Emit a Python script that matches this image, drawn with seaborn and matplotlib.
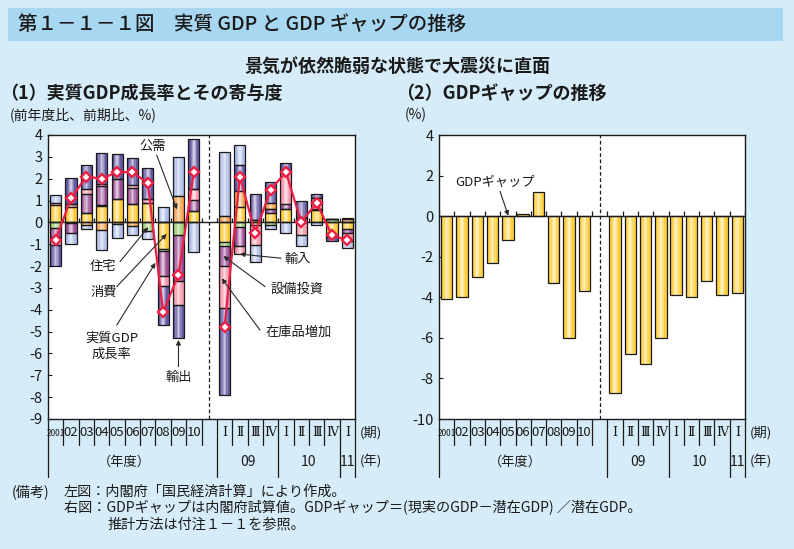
import numpy as np
import pandas as pd
import matplotlib
matplotlib.use('Agg')
import matplotlib.pyplot as plt
import seaborn as sns
from matplotlib.patches import Rectangle

sns.set_theme(style='white')
plt.rcParams['font.family'] = ['Noto Sans CJK JP', 'DejaVu Sans']
plt.rcParams['axes.unicode_minus'] = False

# ---------------- data ----------------
year_labels = ['2001', '02', '03', '04', '05', '06', '07', '08', '09', '10']
quarter_labels = ['Ⅰ', 'Ⅱ', 'Ⅲ', 'Ⅳ', 'Ⅰ', 'Ⅱ', 'Ⅲ', 'Ⅳ', 'Ⅰ']
quarter_years = ['09', '10', '11']
quarter_year_counts = [4, 4, 1]

# contributions (%pt): 10 fiscal years, then 9 quarters
consumption = [0.80, 0.72, 0.44, 0.75, 1.05, 0.86, 0.87, -1.20, 0.00, 0.52,
               -0.88, 0.72, 0.10, 0.43, 0.60, 0.00, 0.55, -0.69, -0.30]
housing = [-0.25, -0.05, 0.00, 0.06, 0.00, 0.00, -0.40, -0.10, -0.60, 0.00,
           -0.22, -0.23, -0.10, -0.10, 0.00, 0.00, 0.00, 0.15, 0.00]
capex = [-0.40, -0.45, 0.84, 0.85, 0.92, 0.70, 0.00, -1.15, -2.10, 0.52,
         -0.89, -0.87, 0.00, 0.18, 0.23, 0.20, 0.05, 0.00, -0.20]
inventory = [-0.40, 0.12, 0.26, 0.10, 0.00, 0.15, 0.18, -0.45, -1.10, 0.48,
             -1.91, -0.35, -0.95, 0.00, 1.55, -0.58, 0.50, 0.00, -0.35]
public = [0.10, 0.00, -0.10, -0.35, -0.08, -0.15, 0.00, 0.00, 1.20, 0.00,
          0.30, 0.70, 0.00, 0.30, 0.00, 0.00, 0.00, 0.00, 0.15]
exports = [-0.95, 1.18, 1.08, 1.42, 1.18, 1.25, 1.45, -1.80, -1.50, 2.30,
           -3.98, 1.20, 1.20, 0.92, 0.35, 0.80, 0.22, -0.18, 0.05]
imports = [0.35, -0.50, -0.22, -0.90, -0.65, -0.45, -0.38, 0.70, 1.80, -1.37,
           2.90, 0.93, -0.75, -0.20, -0.48, -0.52, -0.12, 0.00, -0.30]
gdp_growth = [-0.8, 1.1, 2.1, 2.0, 2.3, 2.3, 1.8, -4.1, -2.4, 2.3,
              -4.8, 2.1, -0.5, 1.5, 2.3, 0.0, 0.9, -0.6, -0.8]

gdp_gap = [-4.1, -4.0, -3.0, -2.3, -1.2, 0.1, 1.2, -3.3, -6.0, -3.7,
           -8.7, -6.8, -7.3, -6.0, -3.9, -4.0, -3.2, -3.9, -3.8]

components = [
    ('消費', consumption, '#FFC933'),
    ('住宅', housing, '#9CCD70'),
    ('設備投資', capex, '#9A4C94'),
    ('在庫品増加', inventory, '#F595AB'),
    ('公需', public, '#F7A04A'),
    ('輸出', exports, '#645AA3'),
    ('輸入', imports, '#AEBDE6'),
]

positions = np.array(list(range(10)) + list(range(11, 20)), dtype=float)
BG = '#D6EDF9'
EDGE = '#1a1a1a'

W, H = 794, 549
fig = plt.figure(figsize=(W / 100, H / 100), dpi=100, facecolor=BG)


def fx(px):
    return px / W


def fy(py):
    return 1 - py / H


# title band
fig.patches.append(Rectangle((fx(8), fy(41)), fx(775), 33 / H, transform=fig.transFigure,
                             facecolor='#A8D8F1', edgecolor='none', zorder=0))
fig.text(fx(18), fy(24.5), '第１－１－１図　実質 GDP と GDP ギャップの推移', fontsize=14,
         weight='medium', va='center', ha='left', color='#1a1a1a')
fig.text(fx(397), fy(67), '景気が依然脆弱な状態で大震災に直面', fontsize=13, weight='bold',
         va='center', ha='center', color='#1a1a1a')
fig.text(fx(0), fy(93), '（1）実質GDP成長率とその寄与度', fontsize=13, weight='bold',
         va='center', ha='left', color='#1a1a1a')
fig.text(fx(396), fy(93), '（2）GDPギャップの推移', fontsize=13, weight='bold',
         va='center', ha='left', color='#1a1a1a')
fig.text(fx(10), fy(115), '(前年度比、前期比、%)', fontsize=10, va='center', ha='left', color='#1a1a1a')
fig.text(fx(405), fy(115), '(%)', fontsize=10, va='center', ha='left', color='#1a1a1a')

# footnotes
fn = 10.2
fig.text(fx(12), fy(492), '(備考)', fontsize=fn, va='center', ha='left', color='#1a1a1a')
fig.text(fx(64), fy(492), '左図：内閣府「国民経済計算」により作成。', fontsize=fn, va='center', ha='left', color='#1a1a1a')
fig.text(fx(64), fy(508), '右図：GDPギャップは内閣府試算値。GDPギャップ＝(現実のGDP－潜在GDP) ／潜在GDP。',
         fontsize=fn, va='center', ha='left', color='#1a1a1a')
fig.text(fx(108), fy(524), '推計方法は付注１－１を参照。', fontsize=fn, va='center', ha='left', color='#1a1a1a')


def shaded_bars(ax, x, heights, bottoms, color, width):
    ax.bar(x, heights, width, bottom=bottoms, color=color, linewidth=0, zorder=2)
    for frac, a in [(0.6, 0.22), (0.34, 0.3), (0.14, 0.4)]:
        ax.bar(x, heights, width * frac, bottom=bottoms, color='white', alpha=a,
               linewidth=0, zorder=2)
    ax.bar(x, heights, width, bottom=bottoms, fill=False, edgecolor=EDGE,
           linewidth=0.9, zorder=3)


def x_table(ax, height_px, end_label_x):
    trans = ax.get_xaxis_transform()
    short = 26 / height_px
    long_ = 58 / height_px
    long_bounds = [-0.5, 10.5, 14.5, 18.5, 19.5]
    for i in range(21):
        b = i - 0.5
        L = long_ if b in long_bounds else short
        ax.plot([b, b], [0, -L], transform=trans, color=EDGE, lw=0.9, clip_on=False)
    ty = -14 / height_px
    for i, lab in enumerate(year_labels):
        ax.text(i, ty, lab, transform=trans, ha='center', va='center',
                fontsize=6 if len(lab) > 2 else 9.5, color='#1a1a1a')
    for j, lab in enumerate(quarter_labels):
        ax.text(11 + j, ty, lab, transform=trans, ha='center', va='center', fontsize=9,
                family=['DejaVu Serif', 'Noto Sans CJK JP'], color='#1a1a1a')
    gy = -43 / height_px
    ax.text(4.5, gy, '（年度）', transform=trans, ha='center', va='center', fontsize=9.5, color='#1a1a1a')
    start = 11
    for lab, n in zip(quarter_years, quarter_year_counts):
        ax.text(start + (n - 1) / 2, gy, lab, transform=trans, ha='center', va='center',
                fontsize=10, color='#1a1a1a')
        start += n
    ax.text(end_label_x, ty, '(期)', transform=ax.transAxes, ha='left', va='center',
            fontsize=9.5, color='#1a1a1a')
    ax.text(end_label_x, gy, '(年)', transform=ax.transAxes, ha='left', va='center',
            fontsize=9.5, color='#1a1a1a')


def style_axes(ax, yticks):
    ax.set_facecolor('white')
    for s in ax.spines.values():
        s.set_visible(True)
        s.set_color(EDGE)
        s.set_linewidth(1.0)
    ax.set_xlim(-0.5, 19.5)
    ax.set_xticks([])
    ax.set_yticks(yticks)
    ax.set_yticklabels([str(t) for t in yticks])
    ax.tick_params(axis='y', direction='in', length=3, width=0.8, labelsize=10.5,
                   colors=EDGE, pad=4, left=True)
    ax.axhline(0, color=EDGE, lw=1.0, zorder=4)
    ax.axvline(10, color=EDGE, lw=0.9, ls=(0, (3, 2)), zorder=1)
    ax.set_xlabel('')
    ax.set_ylabel('')


# ---------------- left chart ----------------
axL = fig.add_axes([fx(48), fy(419), fx(307), 284 / H])
style_axes(axL, list(range(4, -10, -1)))
axL.set_ylim(-9, 4)

pos_base = np.zeros(len(positions))
neg_base = np.zeros(len(positions))
for name, vals, col in components:
    v = np.array(vals)
    bottoms = np.where(v >= 0, pos_base, neg_base)
    shaded_bars(axL, positions, v, bottoms, col, 0.72)
    pos_base = pos_base + np.where(v > 0, v, 0)
    neg_base = neg_base + np.where(v < 0, v, 0)

axL.vlines(np.arange(21) - 0.5, 0, 0.22, color=EDGE, lw=0.9, zorder=4)

line_df = pd.DataFrame({'x': positions, 'y': gdp_growth,
                        'seg': ['y'] * 10 + ['q'] * 9})
for seg in ['y', 'q']:
    d = line_df[line_df['seg'] == seg]
    sns.lineplot(data=d, x='x', y='y', ax=axL, color='#EA1F45', lw=1.6, sort=False,
                 marker='D', markersize=5.3, markerfacecolor='white',
                 markeredgecolor='#EA1F45', markeredgewidth=1.7, zorder=6)
axL.set_xlabel('')
axL.set_ylabel('')

x_table(axL, 284, 1.016)

arrow = dict(arrowstyle='-|>', color='#2a2a2a', lw=0.8, mutation_scale=7,
             shrinkA=0, shrinkB=0)
ann_fs = 9.5
axL.annotate('', xy=(7.9, 0.6), xytext=(6.58, 3.08), arrowprops=arrow, zorder=7)
axL.text(6.31, 3.47, '公需', fontsize=ann_fs, ha='center', va='center', color='#1a1a1a', zorder=7)
axL.annotate('', xy=(6.03, -0.22), xytext=(4.19, -1.8), arrowprops=arrow, zorder=7)
axL.text(3.1, -2.03, '住宅', fontsize=ann_fs, ha='center', va='center', color='#1a1a1a', zorder=7)
axL.annotate('', xy=(7.23, -0.53), xytext=(3.98, -2.94), arrowprops=arrow, zorder=7)
axL.text(3.1, -3.23, '消費', fontsize=ann_fs, ha='center', va='center', color='#1a1a1a', zorder=7)
axL.annotate('', xy=(6.5, -1.85), xytext=(3.98, -4.7), arrowprops=arrow, zorder=7)
axL.text(3.65, -5.66, '実質GDP\n成長率', fontsize=ann_fs, ha='center', va='center',
         color='#1a1a1a', linespacing=1.3, zorder=7)
axL.annotate('', xy=(8.0, -5.38), xytext=(8.0, -6.6), arrowprops=arrow, zorder=7)
axL.text(7.99, -7.12, '輸出', fontsize=ann_fs, ha='center', va='center', color='#1a1a1a', zorder=7)
axL.annotate('', xy=(12.0, -1.45), xytext=(14.68, -1.64), arrowprops=arrow, zorder=7)
axL.text(15.8, -1.69, '輸入', fontsize=ann_fs, ha='center', va='center', color='#1a1a1a', zorder=7)
axL.annotate('', xy=(10.92, -1.54), xytext=(13.64, -2.94), arrowprops=arrow, zorder=7)
axL.text(15.72, -3.06, '設備投資', fontsize=ann_fs, ha='center', va='center', color='#1a1a1a', zorder=7)
axL.annotate('', xy=(10.82, -2.56), xytext=(13.31, -4.93), arrowprops=arrow, zorder=7)
axL.text(15.85, -5.05, '在庫品増加', fontsize=ann_fs, ha='center', va='center', color='#1a1a1a', zorder=7)

# ---------------- right chart ----------------
axR = fig.add_axes([fx(439), fy(419), fx(306), 284 / H])
style_axes(axR, list(range(4, -11, -2)))
axR.set_ylim(-10, 4)
shaded_bars(axR, positions, np.array(gdp_gap), np.zeros(len(positions)), '#FFCF3A', 0.74)
axR.vlines(np.arange(21) - 0.5, 0, 0.24, color=EDGE, lw=0.9, zorder=4)
x_table(axR, 284, 1.016)
axR.annotate('', xy=(4.03, 0.02), xytext=(3.49, 1.22), arrowprops=arrow, zorder=7)
axR.text(3.16, 1.66, 'GDPギャップ', fontsize=ann_fs, ha='center', va='center', color='#1a1a1a', zorder=7)

fig.savefig('out.png', dpi=100, facecolor=BG)
